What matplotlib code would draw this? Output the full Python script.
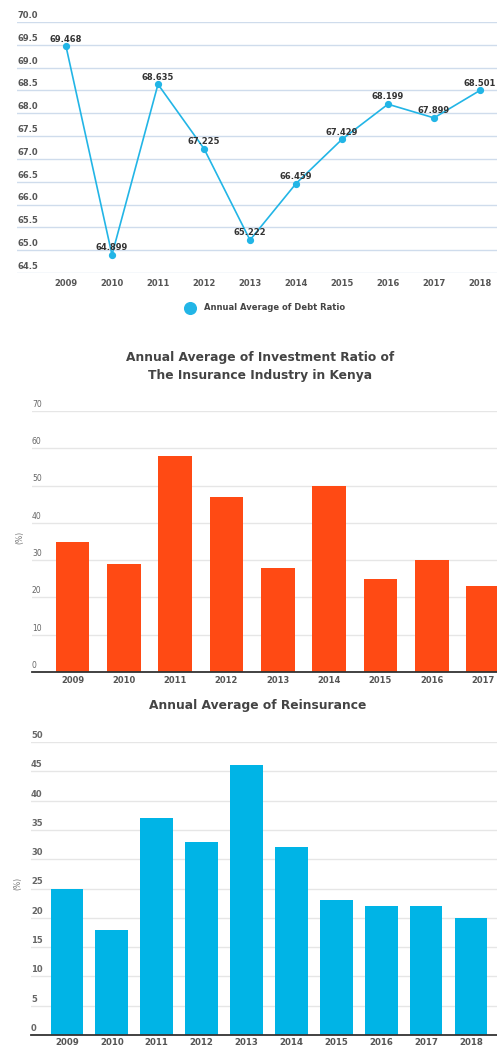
import numpy as np
import matplotlib.pyplot as plt

# data
years = ['2009', '2010', '2011', '2012', '2013', '2014', '2015', '2016', '2017', '2018']
debt_ratio = [69.468, 64.899, 68.635, 67.225, 65.222, 66.459, 67.429, 68.199, 67.899, 68.501]
investment_ratio = [35, 29, 58, 47, 28, 50, 25, 30, 23]
reinsurance = [25, 18, 37, 33, 46, 32, 23, 22, 22, 20]

W, H = 497, 1048
plt.rcParams['font.family'] = ['DejaVu Sans']


def px_axes(fig, left, top, right, bottom):
    return fig.add_axes([left / W, 1 - bottom / H, (right - left) / W, (bottom - top) / H])


def ylabels_above(ax, ticks, fmt, color, size, weight):
    for t in ticks:
        ax.annotate(fmt.format(t), xy=(0, t), xycoords=('axes fraction', 'data'),
                    xytext=(0, 1.5), textcoords='offset points', ha='left', va='bottom',
                    fontsize=size, color=color, fontweight=weight)


def main():
    fig = plt.figure(figsize=(W / 100, H / 100), dpi=100)

    # ---- line chart: debt ratio
    ax1 = px_axes(fig, 17, 22, 497, 273)
    x = np.arange(len(years))
    line_color = '#22b5e6'
    yt = np.arange(64.5, 70.01, 0.5)
    for t in yt:
        ax1.axhline(t, color='#cfdcec', lw=1.0, zorder=0)
    ax1.plot(x, debt_ratio, color=line_color, lw=1.2, marker='o', ms=4.2, zorder=3)
    for xi, v in zip(x, debt_ratio):
        ax1.annotate(f'{v:.3f}', xy=(xi, v), xytext=(0, 2), textcoords='offset points',
                     ha='center', va='bottom', fontsize=6, fontweight='bold', color='#333333', zorder=4)
    ax1.set_xlim(-1.065, 9.37)
    ax1.set_ylim(64.5, 70.0)
    ylabels_above(ax1, yt, '{:.1f}', '#555555', 6, 'bold')
    ax1.set_yticks([])
    ax1.set_xticks(x)
    ax1.set_xticklabels(years, fontsize=6, fontweight='bold', color='#555555')
    ax1.tick_params(axis='x', length=0, pad=4)
    for s in ax1.spines.values():
        s.set_visible(False)
    ax1.patch.set_alpha(0)
    # legend
    fig.lines.append(plt.Line2D([190 / W], [1 - 308 / H], marker='o', ms=8.4, color=line_color,
                                transform=fig.transFigure, figure=fig))
    fig.text(204 / W, 1 - 308 / H, 'Annual Average of Debt Ratio', fontsize=6, fontweight='bold',
             color='#444444', va='center', ha='left')

    # ---- bar chart: investment ratio
    ax2 = px_axes(fig, 32, 411, 497, 672)
    x2 = np.arange(len(investment_ratio))
    yt2 = np.arange(0, 71, 10)
    for t in yt2[1:]:
        ax2.axhline(t, color='#e6e6e6', lw=1.0, zorder=0)
    ax2.bar(x2, investment_ratio, width=0.66, color='#ff4a14', zorder=2)
    ax2.set_xlim(-0.79, 8.27)
    ax2.set_ylim(0, 70)
    ylabels_above(ax2, yt2, '{:d}', '#666666', 5.5, 'normal')
    ax2.set_yticks([])
    ax2.set_xticks(x2)
    ax2.set_xticklabels(years[:len(investment_ratio)], fontsize=6, color='#555555', fontweight='bold')
    ax2.tick_params(axis='x', length=0, pad=3)
    for s in ['top', 'right', 'left']:
        ax2.spines[s].set_visible(False)
    ax2.spines['bottom'].set_color('#333333')
    ax2.spines['bottom'].set_linewidth(1.3)
    ax2.patch.set_alpha(0)
    fig.text(260 / W, 1 - 366 / H, 'Annual Average of Investment Ratio of\nThe Insurance Industry in Kenya',
             ha='center', va='center', fontsize=8.8, fontweight='bold', color='#444444', linespacing=1.5)
    fig.text(20 / W, 1 - 537 / H, '(%)', rotation=90, ha='center', va='center', fontsize=5.5, color='#777777')

    # ---- bar chart: reinsurance
    ax3 = px_axes(fig, 31, 742, 497, 1035)
    x3 = np.arange(len(reinsurance))
    yt3 = np.arange(0, 51, 5)
    for t in yt3[1:]:
        ax3.axhline(t, color='#e6e6e6', lw=1.0, zorder=0)
    ax3.bar(x3, reinsurance, width=0.73, color='#00b4e6', zorder=2)
    ax3.set_xlim(-0.80, 9.58)
    ax3.set_ylim(0, 50)
    ylabels_above(ax3, yt3, '{:d}', '#666666', 6, 'bold')
    ax3.set_yticks([])
    ax3.set_xticks(x3)
    ax3.set_xticklabels(years, fontsize=6.2, color='#555555', fontweight='bold')
    ax3.tick_params(axis='x', length=0, pad=2)
    for s in ['top', 'right', 'left']:
        ax3.spines[s].set_visible(False)
    ax3.spines['bottom'].set_color('#333333')
    ax3.spines['bottom'].set_linewidth(1.3)
    ax3.patch.set_alpha(0)
    fig.text(258 / W, 1 - 705 / H, 'Annual Average of Reinsurance',
             ha='center', va='center', fontsize=8.8, fontweight='bold', color='#444444')
    fig.text(18 / W, 1 - 883 / H, '(%)', rotation=90, ha='center', va='center', fontsize=5.5, color='#777777')

    fig.savefig('out.png', dpi=100)


if __name__ == '__main__':
    main()
